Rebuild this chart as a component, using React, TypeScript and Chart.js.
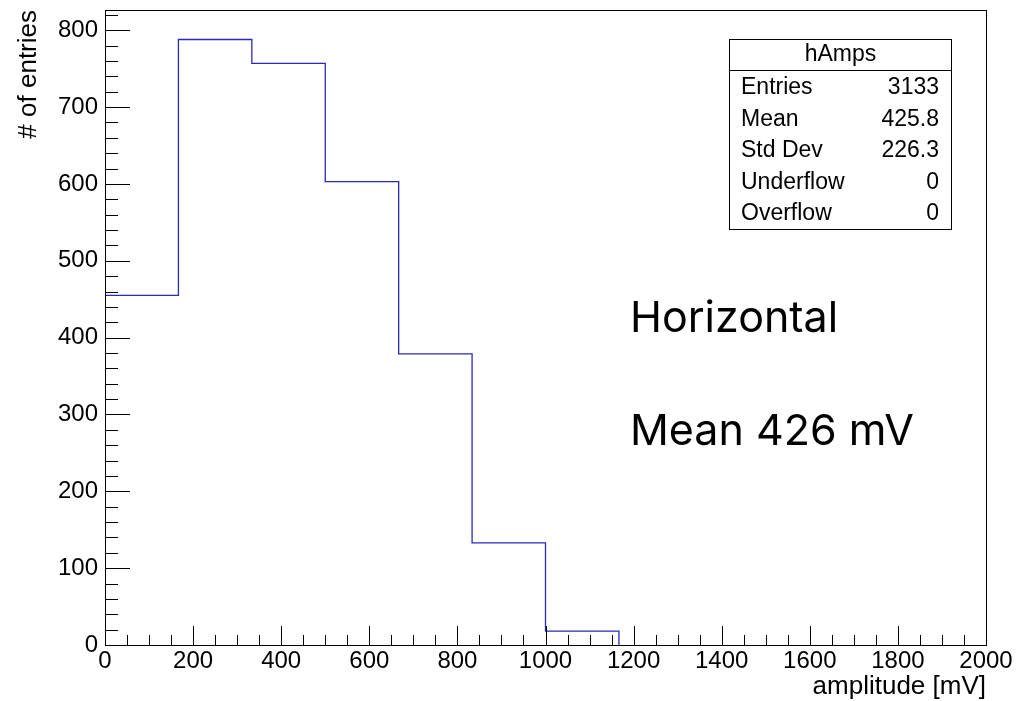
import React, { useEffect, useRef } from "react";
import { Chart, registerables } from "chart.js";

Chart.register(...registerables);

// Histogram "hAmps": bin lower edges (mV) and counts
const binEdges = [0, 166.67, 333.33, 500, 666.67, 833.33, 1000, 1166.67];
const binCounts = [455, 788, 757, 603, 379, 133, 18, 0];

const xTickLabels = [0, 200, 400, 600, 800, 1000, 1200, 1400, 1600, 1800, 2000];
const yTickLabels = [0, 100, 200, 300, 400, 500, 600, 700, 800];

const statsTitle = "hAmps";
const statsNames = ["Entries", "Mean", "Std Dev", "Underflow", "Overflow"];
const statsValues = ["3133", "425.8", "226.3", "0", "0"];

const noteLines = ["Horizontal", "Mean 426 mV"];

const FONT = "'Liberation Sans', Arial, Helvetica, sans-serif";

const rootPlugin = {
  id: "rootStyle",
  afterDraw(chart: any) {
    const ctx = chart.ctx;
    const { left, right, top, bottom } = chart.chartArea;
    const xs = chart.scales.x;
    const ys = chart.scales.y;
    ctx.save();
    ctx.strokeStyle = "#000";
    ctx.lineWidth = 1;
    // frame
    ctx.strokeRect(Math.round(left) + 0.5, Math.round(top) + 0.5, Math.round(right - left), Math.round(bottom - top));
    // x ticks (major every 200, minor every 50)
    ctx.beginPath();
    for (let v = 0; v <= 2000; v += 50) {
      const px = Math.round(xs.getPixelForValue(v)) + 0.5;
      const len = v % 200 === 0 ? 19 : 10;
      ctx.moveTo(px, bottom);
      ctx.lineTo(px, bottom - len);
    }
    // y ticks (major every 100, minor every 20)
    for (let v = 0; v <= ys.max; v += 20) {
      const py = Math.round(ys.getPixelForValue(v)) + 0.5;
      const len = v % 100 === 0 ? 25 : 13;
      ctx.moveTo(left, py);
      ctx.lineTo(left + len, py);
    }
    ctx.stroke();

    // axis titles
    ctx.fillStyle = "#000";
    ctx.font = `26px ${FONT}`;
    ctx.textAlign = "right";
    ctx.textBaseline = "alphabetic";
    ctx.fillText("amplitude [mV]", right, 694);
    ctx.save();
    ctx.translate(36, top);
    ctx.rotate(-Math.PI / 2);
    ctx.textAlign = "right";
    ctx.fillText("# of entries", 0, 0);
    ctx.restore();

    // stats box
    const bx = 729.5, by = 39.5, bw = 222, bh = 190;
    ctx.fillStyle = "#fff";
    ctx.fillRect(bx, by, bw, bh);
    ctx.strokeRect(bx, by, bw, bh);
    ctx.beginPath();
    ctx.moveTo(bx, 70.5);
    ctx.lineTo(bx + bw, 70.5);
    ctx.stroke();
    ctx.fillStyle = "#000";
    ctx.font = `23px ${FONT}`;
    ctx.textBaseline = "middle";
    ctx.textAlign = "center";
    ctx.fillText(statsTitle, bx + bw / 2, 55);
    const rowY = [88, 120, 151, 183, 214];
    statsNames.forEach((n, i) => {
      ctx.textAlign = "left";
      ctx.fillText(n, 741, rowY[i]);
      ctx.textAlign = "right";
      ctx.fillText(statsValues[i], 939, rowY[i]);
    });

    // annotation
    ctx.textAlign = "left";
    ctx.textBaseline = "alphabetic";
    ctx.font = `43px Inter, 'Open Sans', sans-serif`;
    ctx.fillText(noteLines[0], 630, 332);
    ctx.fillText(noteLines[1], 630, 445);
    ctx.restore();
  },
};

export default function App() {
  const ref = useRef<HTMLCanvasElement>(null);
  useEffect(() => {
    if (!ref.current) return;
    const points = binEdges.map((x, i) => ({ x, y: binCounts[i] }));
    const chart = new Chart(ref.current, {
      type: "line",
      data: {
        datasets: [
          {
            data: points,
            stepped: "before",
            borderColor: "#2a2ab8",
            borderWidth: 1.3,
            pointRadius: 0,
            fill: false,
          },
        ],
      },
      options: {
        responsive: false,
        animation: false,
        events: [],
        layout: { padding: { left: 0, top: 10, right: 34, bottom: 0 } },
        plugins: { legend: { display: false }, tooltip: { enabled: false } },
        scales: {
          x: {
            type: "linear",
            min: 0,
            max: 2000,
            grid: { display: false, drawTicks: false },
            border: { display: false },
            afterBuildTicks: (s: any) => {
              s.ticks = xTickLabels.map((v) => ({ value: v }));
            },
            afterFit: (s: any) => {
              s.height = 56;
              s.paddingLeft = 0;
              s.paddingRight = 0;
            },
            ticks: {
              autoSkip: false,
              maxRotation: 0,
              padding: 2,
              color: "#000",
              font: { family: FONT, size: 24 },
              callback: (v: any) => String(v),
            },
          },
          y: {
            type: "linear",
            min: 0,
            max: 826.4,
            grid: { display: false, drawTicks: false },
            border: { display: false },
            afterBuildTicks: (s: any) => {
              s.ticks = yTickLabels.map((v) => ({ value: v }));
            },
            afterFit: (s: any) => {
              s.width = 105;
              s.paddingTop = 0;
              s.paddingBottom = 0;
            },
            ticks: {
              autoSkip: false,
              padding: 7,
              color: "#000",
              font: { family: FONT, size: 24 },
              callback: (v: any) => String(v),
            },
          },
        },
      },
      plugins: [rootPlugin],
    });
    return () => chart.destroy();
  }, []);
  return (
    <div style={{ position: "absolute", left: 0, top: 0, width: 1020, height: 701, background: "#fff" }}>
      <canvas ref={ref} width={1020} height={701} />
    </div>
  );
}
